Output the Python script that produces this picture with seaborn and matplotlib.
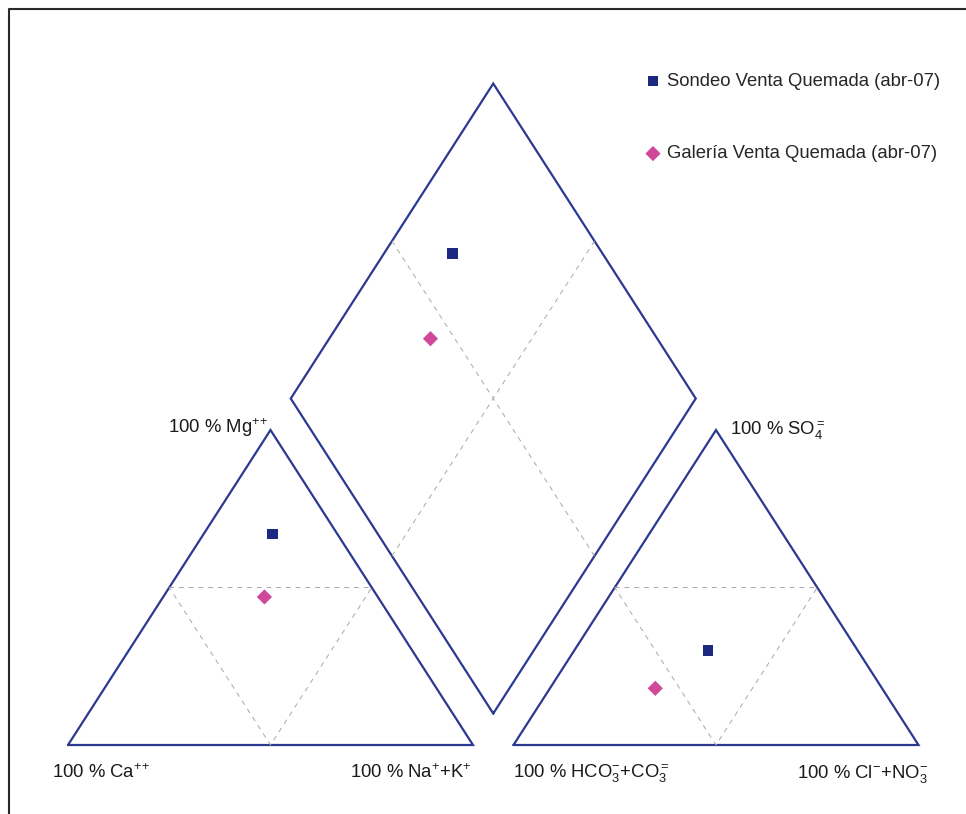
import numpy as np
import pandas as pd
import matplotlib
matplotlib.use("Agg")
import matplotlib.pyplot as plt
import seaborn as sns
from matplotlib.lines import Line2D

# Samples and their ionic percentages (meq %)
samples = ["Sondeo Venta Quemada (abr-07)", "Galería Venta Quemada (abr-07)"]
ca = [16, 28]
mg = [67, 47]
nak = [17, 25]
hco3 = [37, 56]
so4 = [30, 18]
cl = [33, 26]

colors = ["#1B2A80", "#D0489A"]
markers = ["s", "D"]
sizes = [58, 60]

H = np.sqrt(3) / 2
GAP = 0.1
LINE = "#2B3990"
GRID = "#A8A8A8"


def cation_xy(c, m, n):
    t = c + m + n
    return (n + m / 2) / t, m / t * H


def anion_xy(h, s, c):
    t = h + s + c
    return 1 + GAP + (c + s / 2) / t, s / t * H


def diamond_xy(c, m, n, h, s, cl_):
    p = (c + m) / (c + m + n)
    q = (s + cl_) / (h + s + cl_)
    bx, by = 1 + GAP / 2, GAP / 2 * np.sqrt(3)
    return bx + 0.5 * (q - p), by + H * (p + q)


sns.set_theme(style="white")
plt.rcParams["font.family"] = ["Liberation Sans", "DejaVu Sans"]
plt.rcParams["mathtext.fontset"] = "custom"
plt.rcParams["mathtext.rm"] = "Liberation Sans"
plt.rcParams["mathtext.it"] = "Liberation Sans:italic"
plt.rcParams["mathtext.bf"] = "Liberation Sans:bold"

fig = plt.figure(figsize=(9.66, 8.14), dpi=100)
ax = fig.add_axes([0, 0, 1, 1])
ax.set_xlim(-68 / 405, 898 / 405)
ax.set_ylim(-69 / 363.7, 745 / 363.7)
ax.axis("off")

# outlines
ox = 1 + GAP
ax.plot([0, 1, 0.5, 0], [0, 0, H, 0], color=LINE, lw=1.6, solid_joinstyle="miter")
ax.plot([ox, ox + 1, ox + 0.5, ox], [0, 0, H, 0], color=LINE, lw=1.6, solid_joinstyle="miter")
bx, by = 1 + GAP / 2, GAP / 2 * np.sqrt(3)
dx = [bx, bx + 0.5, bx, bx - 0.5, bx]
dy = [by, by + H, by + 2 * H, by + H, by]
ax.plot(dx, dy, color=LINE, lw=1.6, solid_joinstyle="miter")

# internal dashed guides
dash = dict(color=GRID, lw=0.7, dashes=(5, 5))
for off in (0, ox):
    ax.plot([off + 0.25, off + 0.75, off + 0.5, off + 0.25],
            [H / 2, H / 2, 0, H / 2], **dash)
ax.plot([bx - 0.25, bx + 0.25], [by + 1.5 * H, by + 0.5 * H], **dash)
ax.plot([bx + 0.25, bx - 0.25], [by + 1.5 * H, by + 0.5 * H], **dash)

# sample points
for i, name in enumerate(samples):
    cx, cy = cation_xy(ca[i], mg[i], nak[i])
    axx, ayy = anion_xy(hco3[i], so4[i], cl[i])
    px, py = diamond_xy(ca[i], mg[i], nak[i], hco3[i], so4[i], cl[i])
    df = pd.DataFrame({"x": [cx, axx, px], "y": [cy, ayy, py]})
    sns.scatterplot(data=df, x="x", y="y", marker=markers[i], s=sizes[i],
                    color=colors[i], edgecolor="none", label=name, ax=ax,
                    zorder=5)

ax.legend(loc="upper left", bbox_to_anchor=(645.6 / 966, 1 - 73 / 814),
          bbox_transform=fig.transFigure, frameon=False, fontsize=13.3,
          labelspacing=3.0, handlelength=0.8, handletextpad=0.36,
          borderpad=0, borderaxespad=0, scatterpoints=1)

# vertex labels (pixel positions)
labels = [
    (168, 433, r"100 % Mg$^{+}$$^{+}$"),
    (730, 435, r"100 % SO$_4^{=}$"),
    (52, 778, r"100 % Ca$^{+}$$^{+}$"),
    (350, 778, r"100 % Na$^{+}$+K$^{+}$"),
    (513, 778, r"100 % HCO$_3^{-}$+CO$_3^{=}$"),
    (797, 778, r"100 % Cl$^{-}$+NO$_3^{-}$"),
]
for x, y, s in labels:
    fig.text(x / 966, 1 - y / 814, s, fontsize=13.3, ha="left", va="baseline",
             color="#1A1A1A")

# scanned frame (top and left edges)
fig.add_artist(Line2D([9 / 966, 9 / 966, 1], [0, 1 - 9 / 814, 1 - 9 / 814],
                      transform=fig.transFigure, color="#2A2A2A", lw=1.5))

fig.savefig("out.png", dpi=100)
